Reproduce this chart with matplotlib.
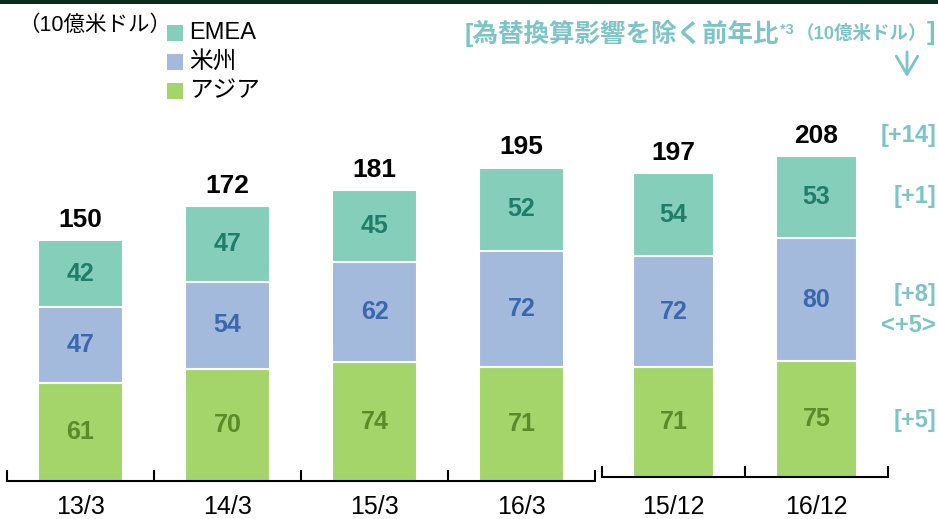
import matplotlib
matplotlib.use("Agg")
import matplotlib.pyplot as plt
from matplotlib.patches import Rectangle

plt.rcParams['font.family'] = ['Liberation Sans', 'Noto Sans CJK JP']

# data (10億米ドル)
periods_fy = ['13/3', '14/3', '15/3', '16/3']
periods_q = ['15/12', '16/12']
emea_fy = [42, 47, 45, 52]
amer_fy = [47, 54, 62, 72]
asia_fy = [61, 70, 74, 71]
total_fy = [150, 172, 181, 195]
emea_q = [54, 53]
amer_q = [72, 80]
asia_q = [71, 75]
total_q = [197, 208]
yoy_labels = ['[+14]', '[+1]', '[+8]', '<+5>', '[+5]']

c_emea = '#85CFBA'
c_amer = '#A3BADC'
c_asia = '#A3D56A'
t_emea = '#1F7D68'
t_amer = '#3B67AE'
t_asia = '#5A8A2A'
teal = '#7CC4C8'

W, H = 938, 519
fig = plt.figure(figsize=(W / 100, H / 100), dpi=100)


def px(x, y):
    return x / W, 1 - y / H


# dark rule at the top
fig.add_artist(Rectangle((0, 1 - 4 / H), 1, 4 / H, transform=fig.transFigure,
                         color='#0C2B1C', lw=0))


def stack(ax, labels, emea, amer, asia, total, width, pad):
    x = list(range(len(labels)))
    b1 = ax.bar(x, asia, width, color=c_asia, edgecolor='white', linewidth=1.5)
    bottom2 = asia
    b2 = ax.bar(x, amer, width, bottom=bottom2, color=c_amer, edgecolor='white', linewidth=1.5)
    bottom3 = [a + b for a, b in zip(asia, amer)]
    b3 = ax.bar(x, emea, width, bottom=bottom3, color=c_emea, edgecolor='white', linewidth=1.5)
    ax.bar_label(b1, labels=[str(v) for v in asia], label_type='center',
                 color=t_asia, fontsize=18, fontweight='bold')
    ax.bar_label(b2, labels=[str(v) for v in amer], label_type='center',
                 color=t_amer, fontsize=18, fontweight='bold')
    ax.bar_label(b3, labels=[str(v) for v in emea], label_type='center',
                 color=t_emea, fontsize=18, fontweight='bold')
    tops = [a + b + c for a, b, c in zip(asia, amer, emea)]
    for xi, top, tot in zip(x, tops, total):
        ax.annotate(str(tot), (xi, top), xytext=(0, 6), textcoords='offset points',
                    ha='center', va='bottom', fontsize=19, fontweight='bold', color='black')
    ax.set_xlim(-0.5, len(labels) - 0.5)
    ax.set_ylim(0, 280)
    for s in ['top', 'left', 'right']:
        ax.spines[s].set_visible(False)
    ax.spines['bottom'].set_linewidth(1.5)
    ax.set_yticks([])
    ax.set_xticks(x, labels)
    ax.set_xticks([i - 0.5 for i in range(len(labels) + 1)], minor=True)
    ax.tick_params(axis='x', which='major', length=0, pad=pad, labelsize=18)
    ax.tick_params(axis='x', which='minor', direction='in', length=8, width=1.5)
    ax.patch.set_alpha(0)


l, b = px(7, 481)
axl = fig.add_axes([l, b, 588 / W, 280 * 1.607 / H])
stack(axl, periods_fy, emea_fy, amer_fy, asia_fy, total_fy, 0.58, 10)

l, b = px(602, 477)
axr = fig.add_axes([l, b, 286 / W, 280 * 1.543 / H])
stack(axr, periods_q, emea_q, amer_q, asia_q, total_q, 0.57, 13)

# unit label and legend
fig.text(*px(18, 25), '（10億米ドル）', fontsize=15.5, va='center', ha='left')
legend_items = [('EMEA', c_emea), ('米州', c_amer), ('アジア', c_asia)]
for i, (name, col) in enumerate(legend_items):
    y = 33 + i * 29
    x0, y0 = px(167, y + 8)
    fig.add_artist(Rectangle((x0, y0), 16 / W, 16 / H, transform=fig.transFigure,
                             color=col, lw=0))
    fig.text(*px(189, y), name, fontsize=17, va='center', ha='left')

# header on the right
t1 = fig.text(*px(465, 33), '[為替換算影響を除く前年比', fontsize=18.4, fontweight='bold',
              color=teal, va='center', ha='left')
t2 = fig.text(0, 0, '*3', fontsize=10.5, fontweight='bold', color=teal)
t3 = fig.text(0, 0, '（10億米ドル）', fontsize=13.3, fontweight='bold', color=teal)
t4 = fig.text(0, 0, ']', fontsize=18.4, fontweight='bold', color=teal)
fig.canvas.draw()
r = fig.canvas.get_renderer()
bb = t1.get_window_extent(r)
t2.set_position((bb.x1 / W, (bb.y1 - 4) / H))
t2.set_va('top')
fig.canvas.draw()
bb2 = t2.get_window_extent(r)
t3.set_position((bb2.x1 / W + 2 / W, px(0, 34)[1]))
t3.set_va('center')
fig.canvas.draw()
bb3 = t3.get_window_extent(r)
t4.set_position((bb3.x1 / W, px(0, 33)[1]))
t4.set_va('center')

fig.add_artist(plt.Annotation('', xy=px(907, 80), xytext=px(907, 49),
                              xycoords='figure fraction', textcoords='figure fraction',
                              arrowprops=dict(arrowstyle='->,head_length=0.6,head_width=0.35',
                                              color=teal, lw=2, mutation_scale=22)))

yoy_y = [136, 196, 295, 325, 421]
for txt, y in zip(yoy_labels, yoy_y):
    fig.text(*px(936, y), txt, fontsize=17, fontweight='bold', color=teal,
             ha='right', va='center')

fig.savefig('out.png', dpi=100)
